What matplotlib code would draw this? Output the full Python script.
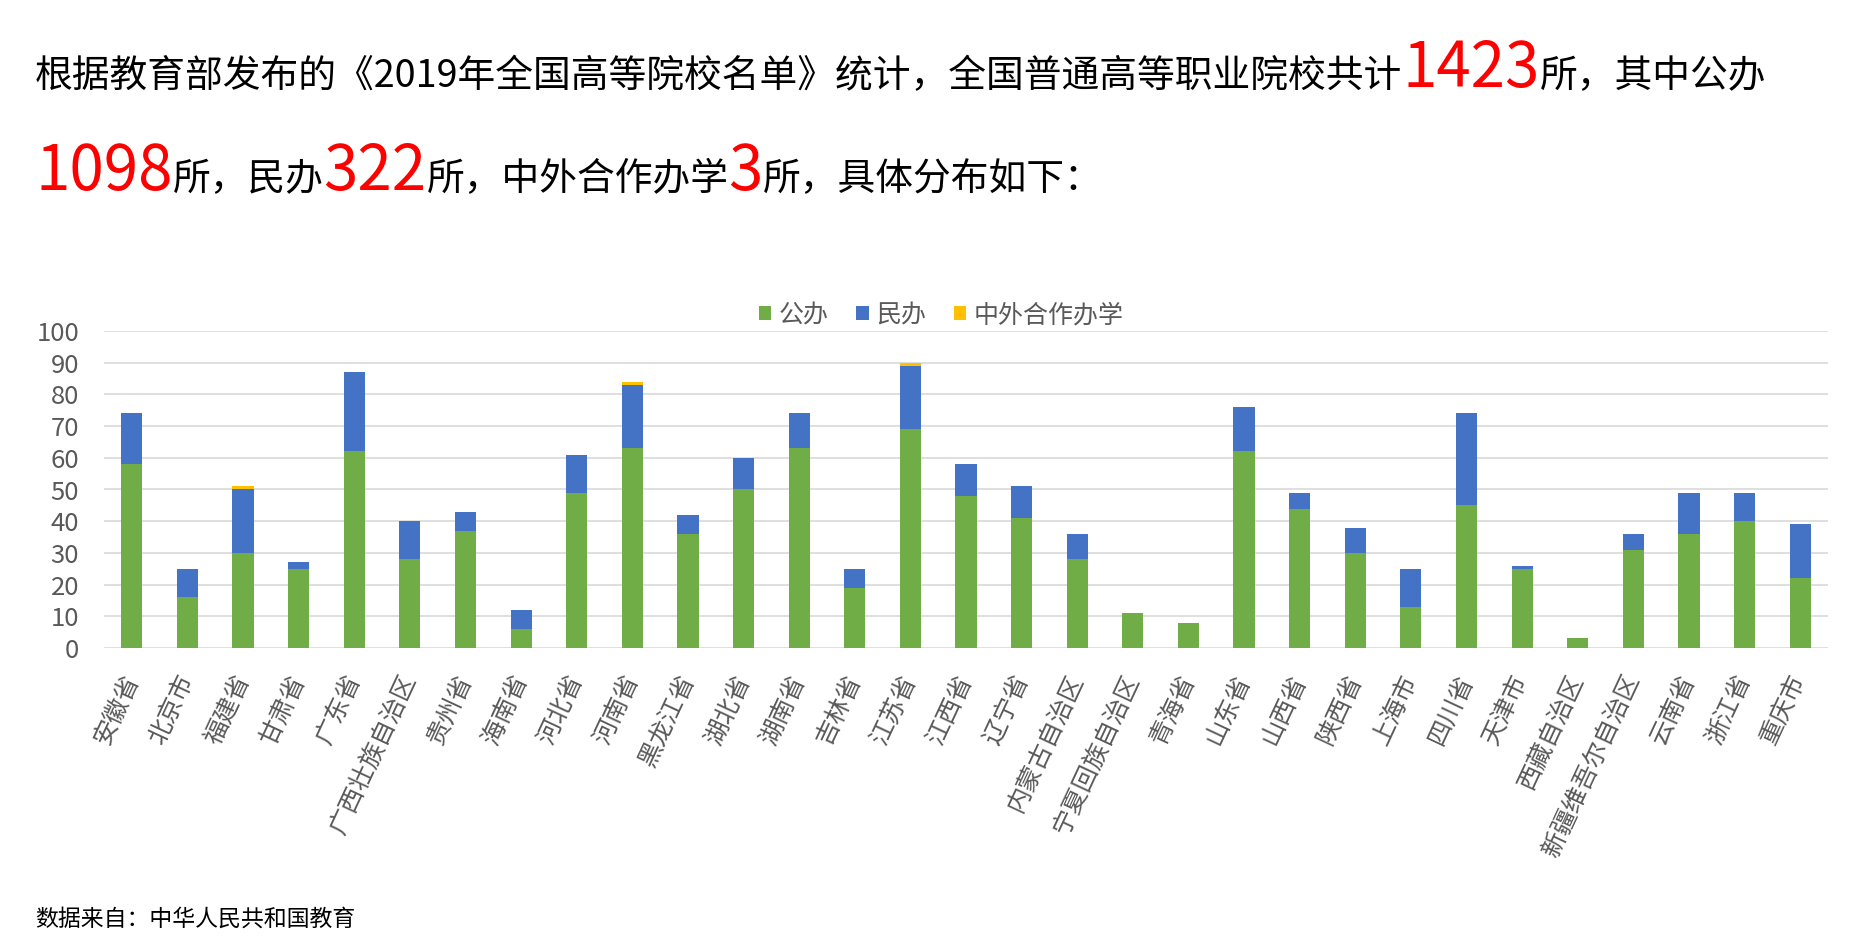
import matplotlib
matplotlib.use('Agg')
import matplotlib.pyplot as plt
import numpy as np

plt.rcParams['font.family'] = ['Noto Sans CJK SC', 'DejaVu Sans']

# ---------------- data ----------------
provinces = ['安徽省', '北京市', '福建省', '甘肃省', '广东省', '广西壮族自治区', '贵州省', '海南省',
             '河北省', '河南省', '黑龙江省', '湖北省', '湖南省', '吉林省', '江苏省', '江西省',
             '辽宁省', '内蒙古自治区', '宁夏回族自治区', '青海省', '山东省', '山西省', '陕西省',
             '上海市', '四川省', '天津市', '西藏自治区', '新疆维吾尔自治区', '云南省', '浙江省', '重庆市']
public = [58, 16, 30, 25, 62, 28, 37, 6, 49, 63, 36, 50, 63, 19, 69, 48,
          41, 28, 11, 8, 62, 44, 30, 13, 45, 25, 3, 31, 36, 40, 22]
private = [16, 9, 20, 2, 25, 12, 6, 6, 12, 20, 6, 10, 11, 6, 20, 10,
           10, 8, 0, 0, 14, 5, 8, 12, 29, 1, 0, 5, 13, 9, 17]
joint = [0, 0, 1, 0, 0, 0, 0, 0, 0, 1, 0, 0, 0, 0, 1, 0,
         0, 0, 0, 0, 0, 0, 0, 0, 0, 0, 0, 0, 0, 0, 0]
series_names = ['公办', '民办', '中外合作办学']
series_colors = ['#70AD47', '#4472C4', '#FFC000']
yticks = [0, 10, 20, 30, 40, 50, 60, 70, 80, 90, 100]

title_line1 = [('根据教育部发布的《2019年全国高等院校名单》统计，全国普通高等职业院校共计', 'n'),
               ('1423', 'h'), ('所，其中公办', 'n')]
title_line2 = [('1098', 'h'), ('所，民办', 'n'), ('322', 'h'), ('所，中外合作办学', 'n'),
               ('3', 'h'), ('所，具体分布如下：', 'n')]
source_text = '数据来自：中华人民共和国教育'

# ---------------- figure ----------------
W, H = 1851, 947
fig = plt.figure(figsize=(W / 100, H / 100), dpi=100)
fig.patch.set_facecolor('white')

ax = fig.add_axes([104 / W, 1 - 648 / H, (1828 - 104) / W, (648 - 331) / H])
x = np.arange(len(provinces))
bw = 0.38
pub = np.array(public)
pri = np.array(private)
jnt = np.array(joint)
ax.bar(x, pub, bw, color=series_colors[0], label=series_names[0], zorder=3)
ax.bar(x, pri, bw, bottom=pub, color=series_colors[1], label=series_names[1], zorder=3)
ax.bar(x, jnt, bw, bottom=pub + pri, color=series_colors[2], label=series_names[2], zorder=3)

ax.set_xlim(-0.5, len(provinces) - 0.5)
ax.set_ylim(0, 100)
ax.set_yticks(yticks)
ax.yaxis.grid(True, color='#D9D9D9', linewidth=1.2, zorder=0)
ax.set_axisbelow(True)
for s in ax.spines.values():
    s.set_visible(False)
ax.tick_params(axis='y', length=0, pad=18, labelsize=18.5, labelcolor='#595959')
ax.set_xticks(x)
ax.set_xticklabels(provinces, rotation=65, ha='right', va='center',
                   rotation_mode='anchor', fontsize=17.8, color='#595959')
ax.tick_params(axis='x', length=0, pad=20)

leg = ax.legend(loc='center', bbox_to_anchor=(941 / W, 1 - 315 / H),
                bbox_transform=fig.transFigure, ncol=3, frameon=False,
                fontsize=18, handlelength=0.5, handleheight=0.5,
                handletextpad=0.3, columnspacing=1.1, labelcolor='#595959')

# ---------------- title with mixed sizes ----------------
renderer = fig.canvas.get_renderer()
sizes = {'n': 27.2, 'h': 44.5}
colors = {'n': 'black', 'h': '#FF0000'}


def draw_line(segments, x0, yb):
    xx = x0
    for txt, kind in segments:
        t = fig.text(xx, yb, txt, fontsize=sizes[kind], color=colors[kind],
                     ha='left', va='baseline')
        bb = t.get_window_extent(renderer=renderer)
        xx += bb.width / fig.bbox.width


draw_line(title_line1, 35 / W, 1 - 87 / H)
draw_line(title_line2, 35 / W, 1 - 190 / H)

fig.text(35 / W, 1 - 919 / H, source_text, fontsize=16.5, color='black',
         ha='left', va='center')

fig.savefig('out.png', dpi=100, facecolor='white')
